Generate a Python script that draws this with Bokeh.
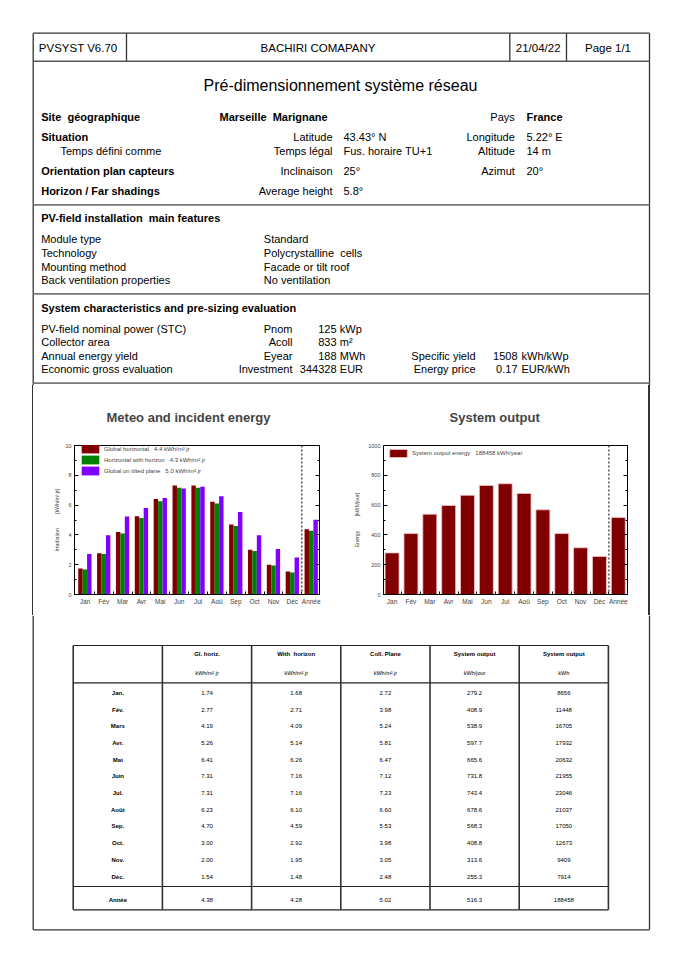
from bokeh.plotting import figure
from bokeh.models import Range1d, FixedTicker, LinearAxis, Span, Legend, LegendItem, Div
from bokeh.layouts import column, row
from bokeh.embed import file_html
from bokeh.resources import INLINE
from bokeh.core.properties import value

FONT = "Liberation Sans"
NB = "\u00a0"

# ---------------- data ----------------
chart_months = ["Jan", "Fév", "Mar", "Avr", "Mai", "Jun", "Jui", "Aoû", "Sep", "Oct", "Nov", "Déc", "Année"]
table_months = ["Jan.", "Fév.", "Mars", "Avr.", "Mai", "Juin", "Jul.", "Août", "Sep.", "Oct.", "Nov.", "Déc.", "Année"]
gl_horiz = [1.74, 2.77, 4.19, 5.26, 6.41, 7.31, 7.31, 6.23, 4.70, 3.00, 2.00, 1.54, 4.38]
with_horizon = [1.68, 2.71, 4.09, 5.14, 6.26, 7.16, 7.16, 6.10, 4.59, 2.92, 1.95, 1.48, 4.28]
coll_plane = [2.72, 3.98, 5.24, 5.81, 6.47, 7.12, 7.23, 6.60, 5.53, 3.98, 3.05, 2.48, 5.02]
sys_out_day = [279.2, 408.9, 538.9, 597.7, 665.6, 731.8, 743.4, 678.6, 568.3, 408.8, 313.6, 255.3, 516.3]
sys_out_kwh = [8656, 11448, 16705, 17932, 20632, 21955, 23046, 21037, 17050, 12673, 9409, 7914, 188458]
table_head = ["", "Gl. horiz.", "With" + NB + " horizon", "Coll. Plane", "System output", "System output"]
table_units = ["", "kWh/m².jr", "kWh/m².jr", "kWh/m².jr", "kWh/jour", "kWh"]
irr_ticks = [0, 2, 4, 6, 8, 10]
irr_minor = [1, 3, 5, 7, 9]
en_ticks = [0, 200, 400, 600, 800, 1000]
en_minor = [100, 300, 500, 700, 900]

C_RED = "#800000"
C_GREEN = "#008000"
C_VIOLET = "#8000ff"
FRAME = "#333333"
SECT = "#777777"


def blank(w, h, x0, x1, y0, y1, **kw):
    p = figure(width=w, height=h, x_range=Range1d(x0, x1), y_range=Range1d(y1, y0),
               output_backend="svg", toolbar_location=None, tools="", min_border=0,
               x_axis_type=None, y_axis_type=None, title_location=None, **kw)
    p.outline_line_color = None
    p.background_fill_color = "white"
    p.border_fill_color = "white"
    return p


def seg(p, lines, color=FRAME, width=1.3):
    p.segment(x0=[l[0] for l in lines], y0=[l[1] for l in lines],
              x1=[l[2] for l in lines], y1=[l[3] for l in lines],
              line_color=color, line_width=width)


def txt(p, items, align="left", size="11px", style="normal", color="black"):
    items = [i for i in items if i[2]]
    p.text(x=[i[0] for i in items], y=[i[1] for i in items], text=[i[2] for i in items],
           text_align=align, text_baseline="middle", text_font=value(FONT),
           text_font_size=size, text_font_style=style, text_color=color)


# ---------------- header page part ----------------
L, R, T = 32.7, 649.0, 32.7
H1 = 385
head = blank(664, H1, 0, 664, 0, H1)
seg(head, [(L, T, R, T), (L, T, L, H1), (R, T, R, H1),
           (126, T, 126, 60.7), (509.3, T, 509.3, 60.7), (566, T, 566, 60.7)])
seg(head, [(L, 60.7, R, 60.7)], color="#555555", width=1.6)
seg(head, [(L, 204.3, R, 204.3), (L, 293.3, R, 293.3), (L, 382.7, R, 382.7)], color=SECT, width=1.8)

txt(head, [(38.3, 47, "PVSYST V6.70")], size="11.5px")
txt(head, [(317.5, 47, "BACHIRI COMAPANY"), (537.7, 47, "21/04/22"), (607.5, 47, "Page 1/1")],
    align="center", size="11.5px")
txt(head, [(340, 85, "Pré-dimensionnement système réseau")], align="center", size="16px")

txt(head, [(40.7, 116, "Site" + NB + " géographique"), (40.7, 136.7, "Situation"),
           (40.7, 170, "Orientation plan capteurs"), (40.7, 190.7, "Horizon / Far shadings"),
           (219, 116, "Marseille" + NB + " Marignane"), (526, 116, "France"),
           (40.7, 217.7, "PV-field installation" + NB + " main features"),
           (40.7, 307.7, "System characteristics and pre-sizing evaluation")],
    style="bold")
txt(head, [(60, 150, "Temps défini comme"),
           (343, 136.7, "43.43° N"), (343, 150, "Fus. horaire TU+1"), (343, 170, "25°"), (343, 190.7, "5.8°"),
           (526, 136.7, "5.22° E"), (526, 150, "14 m"), (526, 170, "20°"),
           (40.7, 238.3, "Module type"), (40.7, 252.3, "Technology"),
           (40.7, 266, "Mounting method"), (40.7, 279.7, "Back ventilation properties"),
           (263.3, 238.3, "Standard"), (263.3, 252.3, "Polycrystalline" + NB + " cells"),
           (263.3, 266, "Facade or tilt roof"), (263.3, 279.7, "No ventilation"),
           (40.7, 328.3, "PV-field nominal power (STC)"), (40.7, 341.7, "Collector area"),
           (40.7, 355.7, "Annual energy yield"), (40.7, 368.7, "Economic gross evaluation"),
           (339.3, 328.3, "kWp"), (339.3, 341.7, "m²"), (339.3, 355.7, "MWh"), (339.3, 368.7, "EUR"),
           (521, 355.7, "kWh/kWp"), (521, 368.7, "EUR/kWh")])
txt(head, [(332, 136.7, "Latitude"), (332, 150, "Temps légal"), (332, 170, "Inclinaison"),
           (332, 190.7, "Average height"),
           (514.3, 116, "Pays"), (514.3, 136.7, "Longitude"), (514.3, 150, "Altitude"), (514.3, 170, "Azimut"),
           (292, 328.3, "Pnom"), (292, 341.7, "Acoll"), (292, 355.7, "Eyear"), (292, 368.7, "Investment"),
           (336, 328.3, "125"), (336, 341.7, "833"), (336, 355.7, "188"), (336, 368.7, "344328"),
           (475, 355.7, "Specific yield"), (475, 368.7, "Energy price"),
           (517, 355.7, "1508"), (517, 368.7, "0.17")],
    align="right")

# ---------------- charts ----------------
H2 = 230
xs = list(range(1, len(chart_months) + 1))
overrides = {x: m for x, m in zip(xs, chart_months)}
bounds = [x + 0.5 for x in xs[:-1]]


def style_chart(p, yticks, yminor, label, label_standoff):
    p.grid.visible = False
    p.outline_line_color = "black"
    p.outline_line_width = 1
    p.xaxis.ticker = FixedTicker(ticks=xs, minor_ticks=bounds)
    p.xaxis.major_label_overrides = overrides
    p.xaxis.major_tick_in = 0
    p.xaxis.major_tick_out = 0
    p.xaxis.minor_tick_in = 3
    p.xaxis.minor_tick_out = 0
    p.xaxis.major_label_standoff = 3
    p.xaxis.major_label_text_font = FONT
    p.xaxis.major_label_text_font_size = "6.5px"
    p.yaxis.ticker = FixedTicker(ticks=yticks, minor_ticks=yminor)
    p.yaxis.major_tick_in = 4
    p.yaxis.major_tick_out = 0
    p.yaxis.minor_tick_in = 2
    p.yaxis.minor_tick_out = 0
    p.yaxis.major_label_standoff = 3
    p.yaxis.major_label_text_font = FONT
    p.yaxis.major_label_text_font_size = "5.5px"
    p.yaxis.axis_label = label
    p.yaxis.axis_label_text_font = FONT
    p.yaxis.axis_label_text_font_size = "5.2px"
    p.yaxis.axis_label_text_font_style = "normal"
    p.yaxis.axis_label_standoff = label_standoff
    ra = LinearAxis(ticker=FixedTicker(ticks=yticks, minor_ticks=yminor),
                    major_tick_in=4, major_tick_out=0, minor_tick_in=2, minor_tick_out=0,
                    major_label_text_font_size="1px", major_label_text_color=None,
                    major_label_standoff=0)
    p.add_layout(ra, "right")
    p.add_layout(Span(location=12.5, dimension="height", line_color="#555555",
                      line_dash="2 2", line_width=1.5))
    p.title.text_font = FONT
    p.title.text_font_size = "13px"
    p.title.text_font_style = "bold"
    p.title.align = "left"
    p.title.standoff = 41
    p.border_fill_color = "white"


c1 = figure(width=300, height=H2, x_range=Range1d(0.45, 13.44), y_range=Range1d(0, 10),
            output_backend="svg", toolbar_location=None, tools="",
            min_border_left=34, min_border_right=21, min_border_top=60, min_border_bottom=21,
            title="Meteo and incident energy")
bw = 0.235
rg = c1.vbar(x=[x - bw for x in xs], top=gl_horiz, width=bw, fill_color=C_RED, line_color=None)
rh = c1.vbar(x=xs, top=with_horizon, width=bw, fill_color=C_GREEN, line_color=None)
rc = c1.vbar(x=[x + bw for x in xs], top=coll_plane, width=bw, fill_color=C_VIOLET, line_color=None)
style_chart(c1, irr_ticks, irr_minor, "Irradiation" + NB * 10 + "[kWh/m².jr]", 2)
c1.title.offset = 32
leg1 = Legend(items=[
    LegendItem(label="Global horizontal" + NB * 3 + f"{gl_horiz[-1]:.1f} kWh/m².jr", renderers=[rg]),
    LegendItem(label="Horizontal with horizon" + NB * 3 + f"{with_horizon[-1]:.1f} kWh/m².jr", renderers=[rh]),
    LegendItem(label="Global on tilted plane" + NB * 3 + f"{coll_plane[-1]:.1f} kWh/m².jr", renderers=[rc])],
    location=(5, 118), glyph_width=22, glyph_height=11, label_height=9, spacing=-2, padding=0,
    margin=0, label_standoff=3, label_text_font=FONT, label_text_font_size="6px",
    border_line_color=None, background_fill_alpha=0)
c1.add_layout(leg1)

c2 = figure(width=300, height=H2, x_range=Range1d(0.544, 13.488), y_range=Range1d(0, 1000),
            output_backend="svg", toolbar_location=None, tools="",
            min_border_left=43, min_border_right=13, min_border_top=60, min_border_bottom=21,
            title="System output")
rs = c2.vbar(x=xs, top=sys_out_day, width=0.74, fill_color=C_RED, line_color="#f0c4c4", line_width=0.8)
style_chart(c2, en_ticks, en_minor, "Energy" + NB * 10 + "[kWh/jour]", 5)
c2.title.offset = 66
leg2 = Legend(items=[LegendItem(label="System output energy" + NB * 3 + f"{sys_out_kwh[-1]} kWh/year",
                                renderers=[rs])],
              location=(4, 136), glyph_width=22, glyph_height=10, label_height=8, spacing=0, padding=0,
              margin=0, label_standoff=3, label_text_font=FONT, label_text_font_size="6px",
              border_line_color=None, background_fill_alpha=0)
c2.add_layout(leg2)

# HTML strips that carry the page frame through the chart band
edge_html = '<div style="margin:0 0 0 {m}px;padding:0;width:1.3px;height:%dpx;background:%s"></div>' % (H2, FRAME)
le = Div(text=edge_html.format(m=L - 0.65), width=40, height=H2, margin=0)
re_ = Div(text=edge_html.format(m=round(R - 640 - 0.65, 2)), width=24, height=H2, margin=0)

# ---------------- table ----------------
Y3 = H1 + H2
tab = blank(664, 946 - Y3, 0, 664, Y3, 946)
B = 929.3
seg(tab, [(L, Y3, L, B), (R, Y3, R, B), (L, B, R, B)])
x0t, cw = 72.7, 89.2
edges = [x0t + i * cw for i in range(7)]
centers = [(edges[i] + edges[i + 1]) / 2 for i in range(6)]
ttop, thead, tdiv, tbot = 645, 682.3, 886, 909.3
seg(tab, [(edges[0], y, edges[-1], y) for y in (ttop, thead, tdiv, tbot)], color="#222222", width=1.2)
seg(tab, [(e, ttop, e, tbot) for e in edges], color="#333333", width=1.6)
txt(tab, [(centers[i], 653.3, table_head[i]) for i in range(6)], align="center", size="6px", style="bold")
txt(tab, [(centers[i], 672.7, table_units[i]) for i in range(6)], align="center", size="5.5px")
row_y = [692.3 + i * 16.7 for i in range(12)] + [899.3]
txt(tab, [(centers[0], y, m) for y, m in zip(row_y, table_months)], align="center", size="6px", style="bold")
cols = [[f"{v:.2f}" for v in gl_horiz], [f"{v:.2f}" for v in with_horizon], [f"{v:.2f}" for v in coll_plane],
        [f"{v:.1f}" for v in sys_out_day], [f"{v:d}" for v in sys_out_kwh]]
items = []
for ci, colv in enumerate(cols):
    for y, t in zip(row_y, colv):
        items.append((centers[ci + 1], y, t))
txt(tab, items, align="center", size="6px")

layout = column(head, row(le, c1, c2, re_, spacing=0), tab, spacing=0)
open("out.html", "w").write(file_html(layout, INLINE))
